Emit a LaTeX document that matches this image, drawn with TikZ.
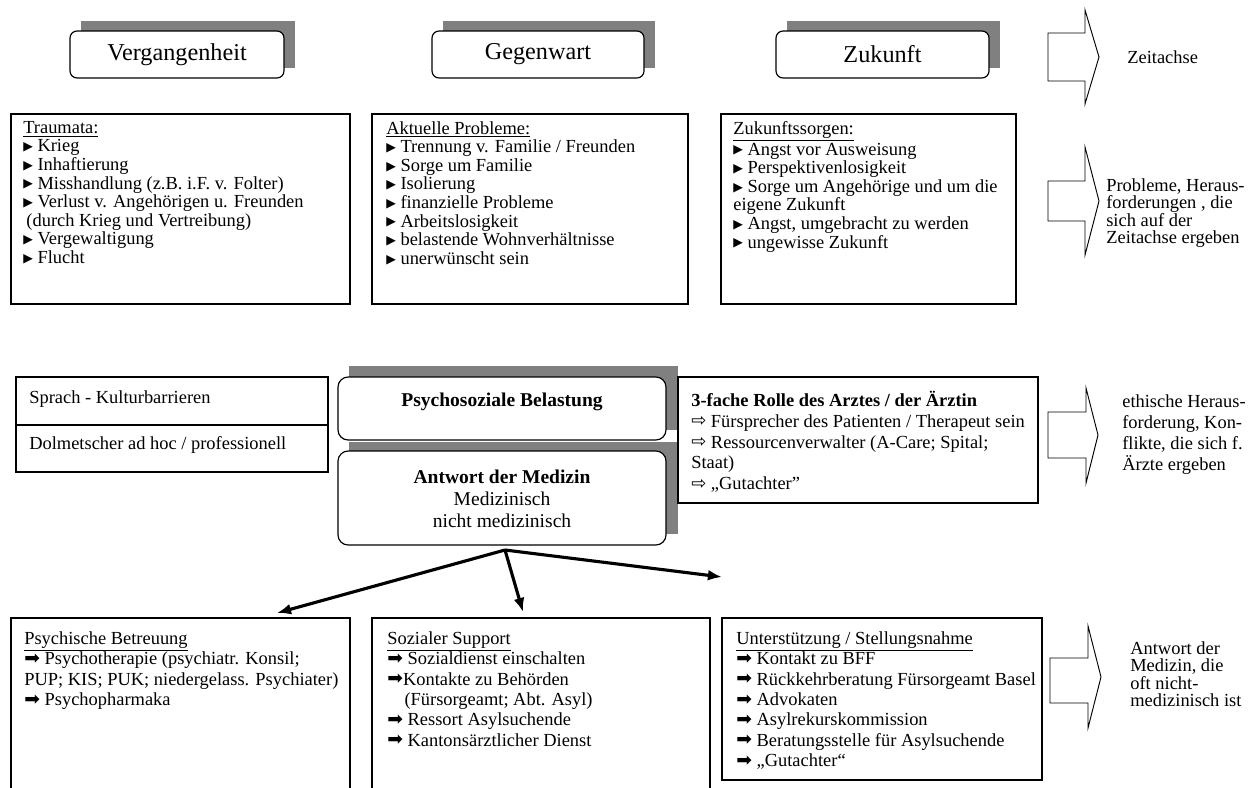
\documentclass[tikz,border=0pt]{standalone}
\usepackage{fontspec}
\setmainfont{Liberation Serif}
\newfontfamily\symfont{DejaVu Sans}
\usetikzlibrary{arrows.meta,calc}
\definecolor{shadowgray}{RGB}{128,128,128}
% list bullets
\newcommand{\bTri}{\raisebox{0.8pt}{\symfont\fontsize{8}{8}\selectfont ▶}}
\newcommand{\bHeavy}{\raisebox{0.3pt}{\symfont\fontsize{12}{12}\selectfont ➡}}
\newcommand{\bWhite}{\raisebox{0.3pt}{\symfont\fontsize{11.5}{11.5}\selectfont ⇨}}

\tikzset{
  sz/.style 2 args={minimum width=#1*0.64pt, minimum height=#2*0.64pt},
  plainbox/.style={draw, line width=0.75pt, fill=white, inner sep=0pt, outer sep=0pt, anchor=north west},
  roundbox/.style={plainbox, rounded corners=4.5pt},
  biground/.style={plainbox, rounded corners=6.5pt},
  listtxt/.style={anchor=north west, align=left, inner sep=0pt, font=\fontsize{11.8}{11.9}\selectfont},
  bottomtxt/.style={listtxt, font=\fontsize{11.8}{13.1}\selectfont},
  roletxt/.style={listtxt, font=\fontsize{11.8}{13.4}\selectfont},
  sidetxt/.style={anchor=north west, align=left, inner sep=0pt, font=\fontsize{11.8}{11.2}\selectfont},
  headtxt/.style={font=\fontsize{15.5}{18}\selectfont},
  midtxt/.style={align=center, inner sep=0pt, font=\fontsize{12.5}{14}\selectfont},
  blockarrow/.style={draw, line width=0.6pt, fill=white, line join=miter},
  branch/.style={line width=2pt, -{Latex[length=9pt,width=7pt]}},
}

\begin{document}
\begin{tikzpicture}[x=0.64pt, y=-0.64pt]
\useasboundingbox (0,0) rectangle (1250,787);
\begin{scope}
\clip (0,0) rectangle (1250,787);
\fill[white] (0,0) rectangle (1250,787);

% ---- time line headers ----
\fill[shadowgray] (81,21) rectangle (295,68);
\fill[shadowgray] (443,21) rectangle (655,68);
\fill[shadowgray] (787,21) rectangle (1000,68);
\node[roundbox, sz={214}{47}, headtxt] (past) at (70,31) {Vergangenheit};
\node[roundbox, sz={212}{47}, headtxt] (present) at (432,31) {Gegenwart};
\node[roundbox, sz={213}{47}, headtxt] (future) at (776,31) {Zukunft};

\draw[blockarrow] (1048,33) -- (1085,33) -- (1085,10) -- (1099,57) -- (1085,104) -- (1085,81) -- (1048,81) -- cycle;
\node[anchor=west, inner sep=0pt, font=\fontsize{11.8}{12}\selectfont] (axis-t) at (1127,57) {Zeitachse};

% ---- problems along the time line ----
\node[plainbox, sz={339}{190}] (trauma) at (11,114) {};
\node[plainbox, sz={316}{190}] (current) at (372,114) {};
\node[plainbox, sz={295}{190}] (worries) at (721,114) {};

\node[listtxt] (trauma-t) at (23,121) {\underline{Traumata:}\\
  \bTri\ Krieg\\
  \bTri\ Inhaftierung\\
  \bTri\ Misshandlung (z.B. i.F. v. Folter)\\
  \bTri\ Verlust v. Angehörigen u. Freunden\\
  \hspace{2pt}(durch Krieg und Vertreibung)\\
  \bTri\ Vergewaltigung\\
  \bTri\ Flucht};
\node[listtxt] (current-t) at (386,121) {\underline{Aktuelle Probleme:}\\
  \bTri\ Trennung v. Familie / Freunden\\
  \bTri\ Sorge um Familie\\
  \bTri\ Isolierung\\
  \bTri\ finanzielle Probleme\\
  \bTri\ Arbeitslosigkeit\\
  \bTri\ belastende Wohnverhältnisse\\
  \bTri\ unerwünscht sein};
\node[listtxt] (worries-t) at (733,121) {\underline{Zukunftssorgen:}\\
  \bTri\ Angst vor Ausweisung\\
  \bTri\ Perspektivenlosigkeit\\
  \bTri\ Sorge um Angehörige und um die\\
  eigene Zukunft\\
  \bTri\ Angst, umgebracht zu werden\\
  \bTri\ ungewisse Zukunft};

\draw[blockarrow] (1048,181) -- (1085,181) -- (1085,147) -- (1099,201) -- (1085,255) -- (1085,221) -- (1048,221) -- cycle;
\node[sidetxt] (prob-t) at (1106,178) {Probleme, Heraus-\\forderungen , die\\sich auf der\\Zeitachse ergeben};

% ---- psychosocial burden and the answer of medicine ----
\node[plainbox, sz={312}{48}] (lang) at (16,377) {};
\node[plainbox, sz={312}{47}] (interp) at (16,425) {};
\node[listtxt, font=\fontsize{11.8}{12}\selectfont] (lang-t) at (29,390.5) {Sprach - Kulturbarrieren};
\node[listtxt, font=\fontsize{11.8}{12}\selectfont] (interp-t) at (29,436.5) {Dolmetscher ad hoc / professionell};

\fill[shadowgray] (349,366) rectangle (678,430);
\fill[shadowgray] (349,442) rectangle (678,534);
\node[plainbox, sz={360}{126}] (role) at (678,377) {};
\node[biground, sz={328}{63}] (burden) at (338,377) {};
\node[biground, sz={328}{94}] (answer) at (338,451) {};
\node[midtxt] (burden-t) at (502,402) {\textbf{Psychosoziale Belastung}};
\node[midtxt] (answer-t) at (502,499) {\textbf{Antwort der Medizin}\\Medizinisch\\nicht medizinisch};

\node[roletxt] (role-t) at (691,390.5) {\textbf{3-fache Rolle des Arztes / der Ärztin}\\
  \bWhite\ Fürsprecher des Patienten / Therapeut sein\\
  \bWhite\ Ressourcenverwalter (A-Care; Spital;\\
  Staat)\\
  \bWhite\ „Gutachter”};

\draw[blockarrow] (1048,412) -- (1086,412) -- (1086,388) -- (1098,435) -- (1086,483) -- (1086,458) -- (1048,458) -- cycle;
\node[sidetxt, font=\fontsize{11.8}{13.4}\selectfont] (ethic-t) at (1122,394.5) {ethische Heraus-\\forderung, Kon-\\flikte, die sich f.\\Ärzte ergeben};

% ---- branches of the answer ----
\coordinate (hub) at (505,550);
\coordinate (to-psych) at (277,613);
\coordinate (to-social) at (523,612);
\coordinate (to-support) at (722,577);
\draw[branch] (hub) -- (to-psych);
\draw[branch] (hub) -- (to-social);
\draw[branch] (hub) -- (to-support);

\node[plainbox, sz={339}{180}] (psych) at (11,618) {};
\node[plainbox, sz={338}{180}] (social) at (372,618) {};
\node[plainbox, sz={320}{162}] (support) at (722,618) {};

\node[bottomtxt] (psych-t) at (24,631) {\underline{Psychische Betreuung}\\
  \bHeavy\ Psychotherapie (psychiatr. Konsil;\\
  PUP; KIS; PUK; niedergelass. Psychiater)\\
  \bHeavy\ Psychopharmaka};
\node[bottomtxt] (social-t) at (387,631) {\underline{Sozialer Support}\\
  \bHeavy\ Sozialdienst einschalten\\
  \bHeavy Kontakte zu Behörden\\
  \hspace{11pt}(Fürsorgeamt; Abt. Asyl)\\
  \bHeavy\ Ressort Asylsuchende\\
  \bHeavy\ Kantonsärztlicher Dienst};
\node[bottomtxt] (support-t) at (736,631) {\underline{Unterstützung / Stellungsnahme}\\
  \bHeavy\ Kontakt zu BFF\\
  \bHeavy\ Rückkehrberatung Fürsorgeamt Basel\\
  \bHeavy\ Advokaten\\
  \bHeavy\ Asylrekurskommission\\
  \bHeavy\ Beratungsstelle für Asylsuchende\\
  \bHeavy\ „Gutachter“};

\draw[blockarrow] (1050,658) -- (1088,658) -- (1088,626) -- (1101,677) -- (1088,728) -- (1088,703) -- (1050,703) -- cycle;
\node[sidetxt] (med-t) at (1130,641) {Antwort der\\Medizin, die\\oft nicht-\\medizinisch ist};
\end{scope}
\end{tikzpicture}
\end{document}
